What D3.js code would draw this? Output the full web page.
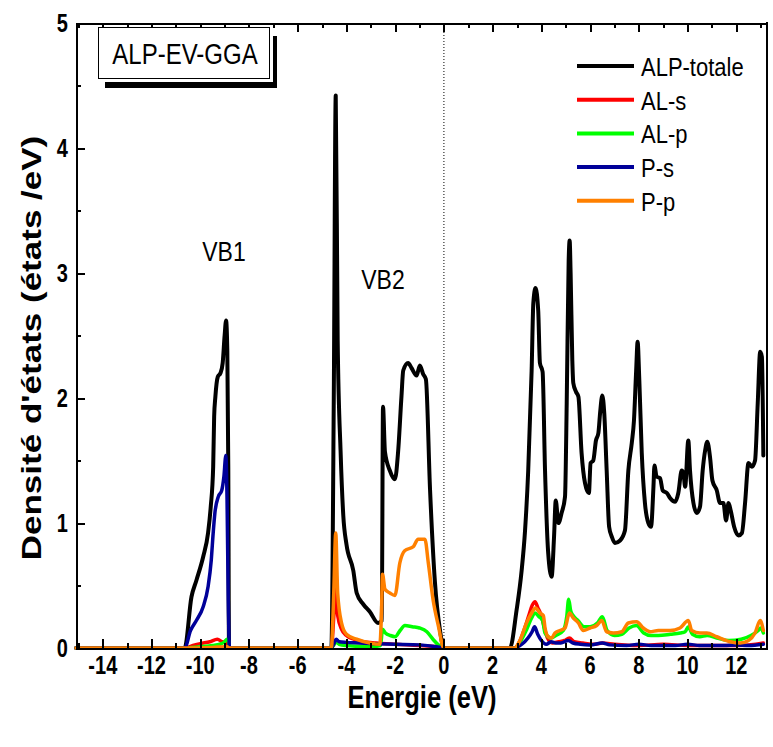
<!DOCTYPE html>
<meta charset="utf-8">
<style type="text/css">
body { margin: 0; background: #fff; }
svg text { font-family: "Liberation Sans", Arial, sans-serif; fill: #000; }
.axis path, .axis line { stroke: #000; stroke-width: 2px; shape-rendering: crispEdges; }
.dos { fill: none; stroke-width: 3.5px; stroke-linejoin: round; stroke-linecap: round; }
</style>
<body>
<div class="chart"></div>
<script src="https://cdnjs.cloudflare.com/ajax/libs/d3/7.8.5/d3.min.js"></script>
<script>

var width = 773,
    height = 747;

// energy (eV), density of states (etats/eV)
var totalDOS = [[-15.1,0],[-10.64,0],[-10.36,0.41],[-10.16,0.54],[-9.88,0.73],[-9.68,0.92],[-9.57,1.13],[-9.47,1.45],[-9.43,1.85],[-9.38,2.01],[-9.28,2.17],[-9.17,2.2],[-9.08,2.28],[-9.0,2.5],[-8.94,2.62],[-8.89,2.38],[-8.85,1.45],[-8.82,0],
  [-4.62,0],[-4.52,2.0],[-4.44,4.42],[-4.36,2.46],[-4.24,1.57],[-4.13,1.06],[-4.0,0.83],[-3.72,0.62],[-3.58,0.44],[-3.31,0.35],[-3.04,0.29],[-2.7,0.2],[-2.55,0.22],[-2.5,1.93],[-2.42,1.57],[-2.22,1.42],[-2.01,1.35],[-1.88,1.57],[-1.74,2.02],[-1.67,2.22],[-1.47,2.28],[-1.33,2.24],[-1.12,2.18],[-0.99,2.26],[-0.85,2.19],[-0.74,2.15],[-0.57,1.27],[-0.37,0.53],[-0.16,0.14],[0,0],
  [2.71,0],[2.98,0.3],[3.19,0.62],[3.33,0.94],[3.46,1.42],[3.6,2.22],[3.67,2.76],[3.76,2.88],[3.87,2.7],[3.94,2.28],[4.05,2.21],[4.15,1.42],[4.28,0.76],[4.42,0.57],[4.52,0.89],[4.59,1.18],[4.7,1.0],[4.83,1.08],[4.97,1.21],[5.04,1.96],[5.12,3.1],[5.16,3.26],[5.2,3.0],[5.27,2.3],[5.31,2.12],[5.42,2.05],[5.52,2.01],[5.65,1.56],[5.79,1.32],[5.95,1.24],[6.02,1.48],[6.13,1.5],[6.24,1.66],[6.34,1.72],[6.41,1.88],[6.5,2.02],[6.58,1.88],[6.68,1.42],[6.78,0.97],[6.89,0.89],[7.02,0.84],[7.23,0.86],[7.43,0.94],[7.57,1.42],[7.71,1.64],[7.8,1.82],[7.89,2.22],[7.95,2.45],[8.02,2.14],[8.12,1.56],[8.25,1.16],[8.39,1.0],[8.5,0.97],[8.6,1.29],[8.64,1.46],[8.73,1.37],[8.87,1.36],[8.98,1.26],[9.15,1.24],[9.28,1.2],[9.49,1.17],[9.62,1.24],[9.76,1.42],[9.83,1.4],[9.9,1.29],[10.03,1.66],[10.1,1.42],[10.24,1.16],[10.38,1.08],[10.51,1.13],[10.62,1.42],[10.72,1.58],[10.81,1.65],[10.92,1.53],[11.02,1.34],[11.2,1.26],[11.33,1.16],[11.47,1.16],[11.58,1.02],[11.68,1.16],[11.77,1.1],[11.91,0.97],[12.09,0.9],[12.23,0.92],[12.36,1.16],[12.5,1.48],[12.64,1.45],[12.77,1.5],[12.88,1.96],[12.98,2.37],[13.05,2.33],[13.11,1.54]];

var alS = [[-15.1,0],[-10.64,0],[-10.3,0.02],[-10.0,0.035],[-9.6,0.05],[-9.3,0.07],[-9.1,0.05],[-8.9,0.04],[-8.82,0],
  [-4.62,0],[-4.52,0.25],[-4.44,0.5],[-4.36,0.26],[-4.2,0.15],[-4.0,0.1],[-3.7,0.07],[-3.3,0.05],[-2.8,0.04],[-2.0,0.03],[-1.0,0.02],[-0.3,0.01],[0,0],
  [2.9,0],[3.1,0.05],[3.3,0.15],[3.5,0.27],[3.62,0.34],[3.74,0.37],[3.86,0.32],[3.96,0.28],[4.1,0.18],[4.25,0.08],[4.45,0.04],[4.7,0.05],[4.95,0.06],[5.15,0.08],[5.35,0.05],[5.7,0.04],[6.2,0.03],[6.5,0.04],[7.0,0.03],[8.0,0.02],[9.0,0.03],[10.0,0.02],[11.0,0.02],[12.0,0.02],[12.8,0.03],[13.11,0.04]];

var alP = [[-15.1,0],[-10.64,0],[-10.0,0.01],[-9.5,0.02],[-9.2,0.03],[-9.0,0.05],[-8.9,0.07],[-8.84,0.06],[-8.8,0],
  [-4.62,0],[-4.5,0.03],[-4.44,0.05],[-4.3,0.03],[-4.0,0.02],[-3.0,0.01],[-2.6,0.02],[-2.52,0.15],[-2.4,0.12],[-2.2,0.1],[-2.0,0.09],[-1.8,0.14],[-1.6,0.18],[-1.3,0.17],[-1.0,0.16],[-0.7,0.13],[-0.45,0.07],[-0.2,0.02],[0,0],
  [2.9,0],[3.1,0.04],[3.4,0.15],[3.6,0.24],[3.74,0.28],[3.9,0.25],[4.05,0.22],[4.15,0.12],[4.4,0.08],[4.6,0.1],[4.9,0.14],[5.04,0.25],[5.12,0.39],[5.2,0.3],[5.3,0.26],[5.5,0.22],[5.75,0.17],[6.0,0.17],[6.3,0.2],[6.5,0.25],[6.7,0.14],[7.0,0.1],[7.3,0.11],[7.6,0.16],[7.9,0.18],[8.2,0.12],[8.5,0.1],[8.8,0.1],[9.3,0.11],[9.7,0.12],[9.9,0.13],[10.03,0.17],[10.2,0.11],[10.5,0.09],[10.8,0.1],[11.2,0.08],[11.7,0.06],[12.2,0.07],[12.6,0.1],[12.9,0.14],[13.0,0.16],[13.11,0.12]];

var pS = [[-15.1,0],[-10.64,0],[-10.4,0.14],[-10.16,0.22],[-9.88,0.33],[-9.68,0.49],[-9.55,0.7],[-9.47,0.92],[-9.4,1.08],[-9.26,1.21],[-9.12,1.26],[-9.03,1.37],[-8.95,1.54],[-8.9,1.18],[-8.85,0.38],[-8.8,0],
  [-4.62,0],[-4.5,0.04],[-4.42,0.07],[-4.3,0.05],[-4.0,0.045],[-3.5,0.04],[-3.0,0.035],[-2.0,0.03],[-1.0,0.025],[-0.3,0.01],[0,0],
  [2.9,0],[3.2,0.03],[3.45,0.08],[3.62,0.13],[3.72,0.17],[3.85,0.11],[4.0,0.06],[4.2,0.03],[4.4,0.05],[4.6,0.04],[4.8,0.04],[5.1,0.06],[5.3,0.04],[5.6,0.03],[6.0,0.025],[6.5,0.04],[6.8,0.025],[7.5,0.02],[8.0,0.03],[8.5,0.02],[9.5,0.02],[10.0,0.03],[10.5,0.02],[11.5,0.02],[12.0,0.025],[12.5,0.02],[13.11,0.03]];

var pP = [[-15.1,0],[-10.64,0],[-9.5,0.005],[-8.9,0.01],[-8.82,0],
  [-4.62,0],[-4.52,0.45],[-4.44,0.92],[-4.36,0.44],[-4.2,0.2],[-4.0,0.11],[-3.58,0.07],[-3.04,0.04],[-2.63,0.03],[-2.56,0.3],[-2.52,0.59],[-2.42,0.47],[-2.22,0.44],[-2.01,0.42],[-1.81,0.68],[-1.6,0.78],[-1.26,0.81],[-1.06,0.87],[-0.78,0.87],[-0.64,0.68],[-0.44,0.38],[-0.23,0.18],[0,0],
  [2.9,0],[3.12,0.06],[3.39,0.2],[3.6,0.28],[3.76,0.32],[3.94,0.28],[4.08,0.26],[4.15,0.16],[4.28,0.09],[4.42,0.08],[4.56,0.12],[4.76,0.14],[4.97,0.16],[5.15,0.28],[5.31,0.24],[5.52,0.2],[5.72,0.14],[6.0,0.16],[6.27,0.18],[6.48,0.22],[6.68,0.13],[6.95,0.12],[7.3,0.13],[7.57,0.2],[7.91,0.21],[8.18,0.16],[8.46,0.13],[8.8,0.14],[9.28,0.14],[9.69,0.16],[10.03,0.22],[10.17,0.14],[10.51,0.12],[10.79,0.12],[11.2,0.09],[11.75,0.05],[12.16,0.04],[12.5,0.06],[12.77,0.12],[12.98,0.22],[13.11,0.14]];

var seriesNames = ["ALP-totale", "AL-s", "AL-p", "P-s", "P-p"];
var seriesColors = ["#000000", "#ff0000", "#00ff00", "#000099", "#ff8000"];
var seriesData = [totalDOS, alS, alP, pS, pP];

var xTicks = [-14, -12, -10, -8, -6, -4, -2, 0, 2, 4, 6, 8, 10, 12];
var yTicks = [0, 1, 2, 3, 4, 5];

var x = d3.scaleLinear().domain([-15.1, 13.26]).range([76, 767]);
var y = d3.scaleLinear().domain([0, 5]).range([648, 23]);

var svg = d3.select(".chart").append("svg")
    .attr("width", width)
    .attr("height", height);

svg.append("rect").attr("width", width).attr("height", height).attr("fill", "#fff");

// dotted line at Fermi level
svg.append("line")
    .attr("x1", x(0)).attr("x2", x(0))
    .attr("y1", y(5)).attr("y2", y(0))
    .attr("stroke", "#000").attr("stroke-width", 1)
    .attr("stroke-dasharray", "1,2");

var line = d3.line()
    .x(function(d) { return x(d[0]); })
    .y(function(d) { return y(d[1]); })
    .curve(d3.curveMonotoneX);

svg.selectAll(".dos")
    .data(seriesData)
    .enter()
    .append("path")
      .attr("class", "dos")
      .attr("stroke", function(d, i) { return seriesColors[i]; })
      .style("stroke-width", function(d, i) { return i == 0 ? "4px" : null; })
      .attr("d", line);

// axes, ticks pointing inward
var minorX = d3.range(-15, 14, 1), minorY = d3.range(0, 5.01, 0.5);

function tickAxis(axis, pos, ticks, size) {
  svg.append("g").attr("class", "axis")
      .attr("transform", pos)
      .call(axis.tickValues(ticks).tickSizeInner(size).tickSizeOuter(0).tickFormat(""));
}
tickAxis(d3.axisBottom(x), "translate(0," + y(0) + ")", minorX, -5);
tickAxis(d3.axisBottom(x), "translate(0," + y(0) + ")", xTicks, -9);
tickAxis(d3.axisTop(x), "translate(0," + y(5) + ")", minorX, -5);
tickAxis(d3.axisTop(x), "translate(0," + y(5) + ")", xTicks, -9);
tickAxis(d3.axisLeft(y), "translate(" + x.range()[0] + ",0)", minorY, -5);
tickAxis(d3.axisLeft(y), "translate(" + x.range()[0] + ",0)", yTicks, -9);

svg.append("line")
    .attr("x1", x.range()[1]).attr("x2", x.range()[1])
    .attr("y1", y(5) - 1).attr("y2", y(0) + 1)
    .attr("stroke", "#000").attr("stroke-width", 2);

// tick labels (picture is stretched vertically)
svg.selectAll(".xlab")
    .data(xTicks)
    .enter().append("text")
      .attr("transform", function(d) { return "translate(" + x(d) + ",674) scale(1,1.25)"; })
      .attr("text-anchor", "middle")
      .style("font-size", "20px").style("font-weight", "bold")
      .text(function(d) { return d; });

svg.selectAll(".ylab")
    .data(yTicks)
    .enter().append("text")
      .attr("transform", function(d) { return "translate(68," + (y(d) + 9) + ") scale(1,1.25)"; })
      .attr("text-anchor", "end")
      .style("font-size", "20px").style("font-weight", "bold")
      .text(function(d) { return d; });

svg.append("text")
    .attr("transform", "translate(422,708) scale(1,1.25)")
    .attr("text-anchor", "middle")
    .style("font-size", "25.5px").style("font-weight", "bold")
    .text("Energie (eV)");

svg.append("text")
    .attr("transform", "translate(41,348) rotate(-90) scale(1.25,1)")
    .attr("text-anchor", "middle")
    .style("font-size", "28px").style("font-weight", "bold")
    .text("Densité d'états (états /eV)");

// title box with shadow
svg.append("rect").attr("x", 105).attr("y", 82).attr("width", 172).attr("height", 6).attr("fill", "#000");
svg.append("rect").attr("x", 273).attr("y", 36).attr("width", 4).attr("height", 52).attr("fill", "#000");
svg.append("rect").attr("x", 98.5).attr("y", 27.5).attr("width", 171).attr("height", 51)
    .attr("fill", "#fff").attr("stroke", "#000").attr("stroke-width", 1);
svg.append("text")
    .attr("transform", "translate(185,64) scale(1,1.2)")
    .attr("text-anchor", "middle")
    .style("font-size", "24px")
    .text("ALP-EV-GGA");

svg.append("text")
    .attr("transform", "translate(224,261) scale(1,1.2)")
    .attr("text-anchor", "middle")
    .style("font-size", "23px")
    .text("VB1");
svg.append("text")
    .attr("transform", "translate(383,289) scale(1,1.2)")
    .attr("text-anchor", "middle")
    .style("font-size", "23px")
    .text("VB2");

// legend
var legend = svg.selectAll(".legend")
    .data(seriesNames)
    .enter().append("g")
      .attr("transform", function(d, i) { return "translate(577," + (66 + i * 33.7) + ")"; });

legend.append("line")
    .attr("x1", 0).attr("x2", 57)
    .attr("stroke", function(d, i) { return seriesColors[i]; })
    .attr("stroke-width", 4);

legend.append("text")
    .attr("transform", "translate(64,10) scale(1,1.2)")
    .style("font-size", "22px")
    .text(function(d) { return d; });

</script>
</body>
